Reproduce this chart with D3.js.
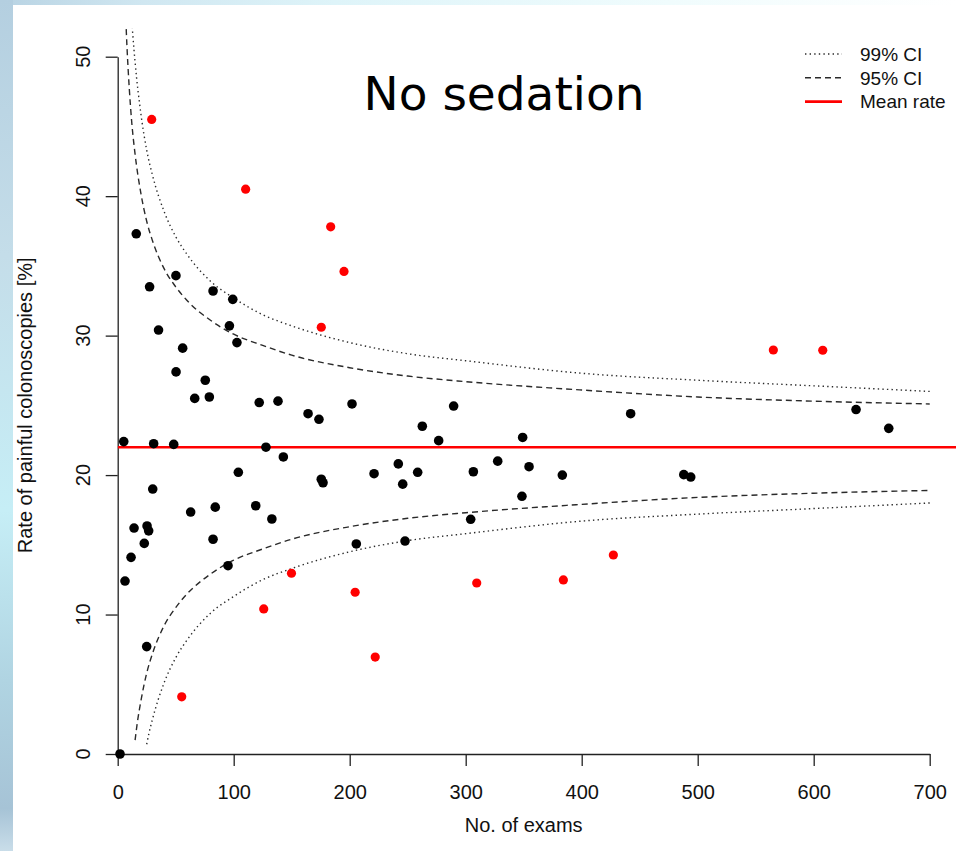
<!DOCTYPE html>
<html>
<head>
<meta charset="utf-8">
<script src="https://cdn.jsdelivr.net/npm/d3@7"></script>
<style>
  body { margin: 0; padding: 0; background: #fff; }
  svg { display: block; }
</style>
</head>
<body>
<div id="chart"></div>
<script>
// points: [no. of exams, rate %]
var blackPoints = [
  [2, 0.0], [5.2, 22.4], [6.3, 12.4], [11.5, 14.1], [14.1, 16.2], [16.0, 37.3],
  [22.9, 15.1], [25.0, 7.7], [25.3, 16.35], [26.7, 16.0], [27.5, 33.5], [30.2, 19.0],
  [31.0, 22.25], [35.2, 30.4], [48.3, 22.2], [50.2, 34.3], [50.3, 27.4], [56.0, 29.1],
  [62.9, 17.35], [66.4, 25.5], [75.5, 26.8], [79.0, 25.6], [82.2, 33.2], [82.2, 15.4],
  [84.1, 17.7], [95.1, 13.5], [96.3, 30.7], [99.2, 32.6], [102.8, 29.5], [104.0, 20.2],
  [119.0, 17.8], [122.0, 25.2], [127.8, 22.0], [132.9, 16.85], [138.2, 25.3], [142.8, 21.3],
  [164.1, 24.4], [173.5, 24.0], [175.5, 19.7], [177.0, 19.45], [202.0, 25.1], [205.7, 15.06],
  [221.0, 20.1], [241.9, 20.8], [245.7, 19.35], [247.7, 15.27], [258.6, 20.2], [262.6, 23.5],
  [276.7, 22.47], [289.6, 24.95], [304.3, 16.83], [306.6, 20.24], [327.6, 21.0], [348.5, 18.48],
  [349.1, 22.7], [354.6, 20.6], [383.3, 20.0], [442.2, 24.4], [488.0, 20.03], [494.0, 19.86],
  [636.5, 24.7], [664.7, 23.35]
];
var redPoints = [
  [29.3, 45.5], [55.2, 4.1], [110.3, 40.5], [125.9, 10.4], [149.8, 12.96], [175.5, 30.6],
  [183.6, 37.8], [195.1, 34.6], [204.7, 11.6], [222.0, 6.95], [309.5, 12.26], [384.2, 12.48],
  [427.3, 14.27], [565.2, 28.97], [607.8, 28.95]
];

var meanRate = 22.0;

// control limit curves, read at these exam counts
var upper95N = [7, 8, 9, 10, 12, 15, 20, 25, 30, 40, 50, 60, 80, 100, 125, 150, 200, 250, 300, 400, 500, 600, 700];
var upper95 = [52.7, 50.7, 49.1, 47.7, 45.4, 43.0, 40.2, 38.2, 36.8, 34.8, 33.5, 32.5, 31.1, 30.1, 29.3, 28.6, 27.7, 27.1, 26.7, 26.1, 25.6, 25.3, 25.1];
var upper99N = [12, 13, 15, 20, 25, 30, 40, 50, 60, 80, 100, 125, 150, 200, 250, 300, 400, 500, 600, 700];
var upper99 = [52.8, 51.6, 49.6, 45.9, 43.3, 41.5, 38.9, 37.1, 35.8, 33.9, 32.7, 31.5, 30.7, 29.5, 28.7, 28.2, 27.3, 26.8, 26.4, 26.0];
var lower95N = [15, 17, 20, 25, 30, 40, 50, 60, 80, 100, 125, 150, 200, 250, 300, 400, 500, 600, 700];
var lower95 = [1.0, 2.3, 3.8, 5.8, 7.2, 9.2, 10.5, 11.5, 12.9, 13.9, 14.7, 15.4, 16.3, 16.9, 17.3, 17.9, 18.4, 18.7, 18.9];
var lower99N = [25, 27, 30, 40, 50, 60, 80, 100, 125, 150, 200, 250, 300, 400, 500, 600, 700];
var lower99 = [0.7, 1.5, 2.5, 5.1, 6.9, 8.2, 10.1, 11.3, 12.5, 13.3, 14.5, 15.3, 15.8, 16.7, 17.2, 17.6, 18.0];

var xTicks = [0, 100, 200, 300, 400, 500, 600, 700];
var yTicks = [0, 10, 20, 30, 40, 50];
var legendLabels = ["99% CI", "95% CI", "Mean rate"];

var W = 956, H = 851;
var svg = d3.select("#chart").append("svg").attr("width", W).attr("height", H);

// slide background
var defs = svg.append("defs");
var gLeft = defs.append("linearGradient").attr("id", "gLeft")
  .attr("x1", 0).attr("y1", 0).attr("x2", 0).attr("y2", 1);
[[0, "#b4cfe0"], [0.3, "#c4dde9"], [0.6, "#c6eef6"], [0.8, "#b0d4e2"], [0.95, "#a6c3d6"], [1, "#c9dde9"]]
  .forEach(function(s) { gLeft.append("stop").attr("offset", s[0]).attr("stop-color", s[1]); });
var gTop = defs.append("linearGradient").attr("id", "gTop")
  .attr("x1", 0).attr("y1", 0).attr("x2", 1).attr("y2", 0);
[[0, "#b8d3e3"], [0.15, "#d0e7f1"], [0.35, "#def4f9"], [0.7, "#f0fcfd"], [1, "#ffffff"]]
  .forEach(function(s) { gTop.append("stop").attr("offset", s[0]).attr("stop-color", s[1]); });

svg.append("rect").attr("width", W).attr("height", H).attr("fill", "url(#gTop)");
svg.append("rect").attr("width", 13).attr("height", H).attr("fill", "url(#gLeft)");
svg.append("rect").attr("x", 13).attr("y", 5).attr("width", W - 13).attr("height", H - 5).attr("fill", "#fff");

var x = d3.scaleLinear().domain([0, 700]).range([117.7, 929.7]);
var y = d3.scaleLinear().domain([0, 50]).range([754, 56.7]);

defs.append("clipPath").attr("id", "plotClip")
  .append("rect")
  .attr("x", x(0)).attr("y", y(52))
  .attr("width", W - x(0)).attr("height", y(-2) - y(52));

var fontR = "'Liberation Sans', Arial, sans-serif";

// axes
var xAxis = svg.append("g")
  .attr("transform", "translate(0," + y(0) + ")")
  .call(d3.axisBottom(x).tickValues(xTicks).tickSize(12).tickSizeOuter(0).tickPadding(19));
var yAxis = svg.append("g")
  .attr("transform", "translate(" + x(0) + ",0)")
  .call(d3.axisLeft(y).tickValues(yTicks).tickSize(12).tickSizeOuter(0));

[xAxis, yAxis].forEach(function(a) {
  a.selectAll("path, line").attr("stroke", "#222").attr("stroke-width", 1.3);
});
xAxis.selectAll("text")
  .style("font-family", fontR).style("font-size", "20px").attr("fill", "#111");
yAxis.selectAll("text").remove();

svg.append("g").selectAll("text")
  .data(yTicks)
  .enter()
  .append("text")
    .attr("transform", function(d) { return "translate(90," + y(d) + ") rotate(-90)"; })
    .attr("text-anchor", "middle")
    .style("font-family", fontR).style("font-size", "20px").attr("fill", "#111")
    .text(function(d) { return d; });

// axis titles
svg.append("text")
  .attr("x", (x(0) + x(700)) / 2)
  .attr("y", 832)
  .attr("text-anchor", "middle")
  .style("font-family", fontR).style("font-size", "20px").attr("fill", "#111")
  .text("No. of exams");

svg.append("text")
  .attr("transform", "translate(32," + ((y(0) + y(50)) / 2) + ") rotate(-90)")
  .attr("text-anchor", "middle")
  .style("font-family", fontR).style("font-size", "20px").attr("fill", "#111")
  .text("Rate of painful colonoscopies [%]");

// limit curves
var plot = svg.append("g").attr("clip-path", "url(#plotClip)");

function limitLine(ns, vals, dash) {
  var pts = ns.map(function(n, i) { return [n, vals[i]]; });
  plot.append("path")
    .datum(pts)
    .attr("fill", "none")
    .attr("stroke", "#2a2a2a")
    .attr("stroke-width", 1.4)
    .attr("stroke-dasharray", dash)
    .attr("d", d3.line()
      .x(function(d) { return x(d[0]); })
      .y(function(d) { return y(d[1]); })
      .curve(d3.curveMonotoneX));
}
var dotted = "1.4,3.2", dashed = "6,4";
limitLine(upper99N, upper99, dotted);
limitLine(lower99N, lower99, dotted);
limitLine(upper95N, upper95, dashed);
limitLine(lower95N, lower95, dashed);

// mean rate line
plot.append("line")
  .attr("x1", x(0)).attr("x2", W)
  .attr("y1", y(meanRate)).attr("y2", y(meanRate))
  .attr("stroke", "#ff0000").attr("stroke-width", 2.6);

// points
svg.append("g").selectAll("circle")
  .data(blackPoints)
  .enter()
  .append("circle")
    .attr("cx", function(d) { return x(d[0]); })
    .attr("cy", function(d) { return y(d[1]); })
    .attr("r", 4.8)
    .attr("fill", "#000");

svg.append("g").selectAll("circle")
  .data(redPoints)
  .enter()
  .append("circle")
    .attr("cx", function(d) { return x(d[0]); })
    .attr("cy", function(d) { return y(d[1]); })
    .attr("r", 4.6)
    .attr("fill", "#ff0000");

// title
svg.append("text")
  .attr("x", 504)
  .attr("y", 110)
  .attr("text-anchor", "middle")
  .style("font-family", "'DejaVu Sans', Verdana, sans-serif")
  .style("font-size", "47px")
  .attr("fill", "#000")
  .text("No sedation");

// legend
var legendStyles = [
  { dash: dotted, color: "#2a2a2a", width: 1.4 },
  { dash: dashed, color: "#2a2a2a", width: 1.4 },
  { dash: null, color: "#ff0000", width: 2.6 }
];
var legend = svg.append("g");
legendLabels.forEach(function(lab, i) {
  var ly = 54 + i * 23.8;
  legend.append("line")
    .attr("x1", 805).attr("x2", 842)
    .attr("y1", ly).attr("y2", ly)
    .attr("stroke", legendStyles[i].color)
    .attr("stroke-width", legendStyles[i].width)
    .attr("stroke-dasharray", legendStyles[i].dash);
  legend.append("text")
    .attr("x", 860).attr("y", ly + 6.8)
    .style("font-family", fontR).style("font-size", "19px").attr("fill", "#111")
    .text(lab);
});
</script>
</body>
</html>
